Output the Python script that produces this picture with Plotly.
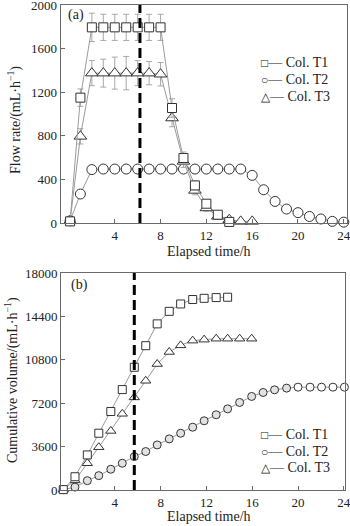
import plotly.graph_objects as go

W, H = 350, 526

# ---------------- data: panel (a) flow rate ----------------
t_a_T1 = [0.1, 1, 2, 3, 4, 5, 6, 7, 8, 9, 10, 11, 12, 13, 14]
flow_T1 = [15, 1150, 1795, 1795, 1795, 1795, 1795, 1795, 1795, 1055, 596, 345, 177, 76, 10]
err_T1 = [5, 80, 130, 120, 120, 120, 120, 120, 120, 85, 55, 40, 30, 20, 5]

t_a_T2 = [0.1, 1, 2, 3, 4, 5, 6, 7, 8, 9, 10, 11, 12, 13, 14, 15, 16, 17, 18, 19, 20, 21, 22, 23, 24]
flow_T2 = [20, 266, 490, 495, 495, 495, 495, 495, 495, 495, 495, 495, 495, 495, 495, 495,
           437, 305, 198, 128, 95, 60, 37, 15, 8]
err_T2 = [5, 30, 15, 10, 10, 10, 10, 10, 10, 10, 10, 10, 10, 10, 10, 10, 15, 15, 15, 15, 15, 10, 10, 5, 5]

t_a_T3 = [0.1, 1, 2, 3, 4, 5, 6, 7, 8, 9, 10, 11, 12, 13, 14, 15, 16]
flow_T3 = [20, 795, 1375, 1375, 1375, 1375, 1375, 1375, 1365, 963, 565, 299, 138, 61, 30, 15, 15]
err_T3 = [5, 70, 115, 128, 147, 153, 115, 107, 107, 80, 55, 40, 30, 20, 10, 5, 5]

# ---------------- data: panel (b) cumulative volume ----------------
t_b = [-0.5, 0.52, 1.6, 2.6, 3.65, 4.65, 5.7, 6.7, 7.7, 8.75, 9.75, 10.8, 11.8, 12.85,
       13.85, 14.9, 15.95, 16.95, 17.95, 19.0, 20.0, 21.05, 22.05, 23.05, 24.05]
cum_T1 = [30, 1100, 2910, 4710, 6510, 8330, 10180, 11970, 13780, 14820, 15430, 15800,
          15900, 15960, 15990]
cum_T2 = [30, 240, 775, 1190, 1720, 2220, 2770, 3190, 3740, 4240, 4710, 5210, 5740, 6240,
          6730, 7260, 7760, 8090, 8310, 8450, 8530, 8530, 8530, 8530, 8530]
cum_T3 = [30, 800, 2220, 3550, 4900, 6320, 7680, 9060, 10450, 11450, 12000, 12390, 12470,
          12550, 12550, 12550, 12550]

x_ticks = [4, 8, 12, 16, 20, 24]
y_ticks_a = [0, 400, 800, 1200, 1600, 2000]
y_ticks_b = [0, 3600, 7200, 10800, 14400, 18000]
legend_names = ["Col. T1", "Col. T2", "Col. T3"]
legend_syms = ["\u25a1", "\u25cb", "\u25b3"]
dash_a, dash_b = 6.2, 5.7

FONT = "Liberation Serif, Times New Roman, serif"
LINE = "#9a9a9a"
EDGE = "#333333"
FRAME = "#6a6a6a"

def px(xp):
    return xp / W

def py(yp):
    return 1 - yp / H

fig = go.Figure()

def add(x, y, sym, size, xa, ya, err=None, fills=None):
    marker = dict(symbol=sym, size=size, color=fills if fills else "white",
                  line=dict(color=EDGE, width=1))
    kw = {}
    if err is not None:
        kw["error_y"] = dict(type="data", array=err, color="#a8a8a8", thickness=1, width=3)
    fig.add_trace(go.Scatter(x=x, y=y, mode="lines+markers", xaxis=xa, yaxis=ya,
                             line=dict(color=LINE, width=1), marker=marker,
                             showlegend=False, cliponaxis=False, **kw))

# panel (a)
add(t_a_T2, flow_T2, "circle", 10, "x", "y", err_T2)
add(t_a_T3, flow_T3, "triangle-up", 11, "x", "y", err_T3)
add(t_a_T1, flow_T1, "square", 9, "x", "y", err_T1)

# panel (b)
fills_T2 = ["white"] + ["#e2e2e2"] * 19 + ["white"] * 5
add(t_b, cum_T2, "circle", 8, "x2", "y2", fills=fills_T2)
add(t_b[:len(cum_T3)], cum_T3, "triangle-up", 9, "x2", "y2")
add(t_b[:len(cum_T1)], cum_T1, "square", 8, "x2", "y2")

axis_common = dict(showline=True, linecolor=FRAME, linewidth=1, mirror=True,
                   ticks="inside", ticklen=4, tickcolor=FRAME, showgrid=False,
                   zeroline=False, tickfont=dict(family=FONT, size=13, color="#222"),
                   automargin=False, ticklabeloverflow="allow")

fig.update_layout(
    width=W, height=H, margin=dict(l=0, r=0, t=0, b=0),
    paper_bgcolor="white", plot_bgcolor="white",
    xaxis=dict(domain=[px(60.7), px(347)], range=[-0.72, 24.28], tickvals=x_ticks,
               ticktext=[str(v) for v in x_ticks], anchor="y", **axis_common),
    yaxis=dict(domain=[py(223), py(5)], range=[0, 2000], tickvals=y_ticks_a,
               ticktext=[str(v) for v in y_ticks_a], anchor="x", **axis_common),
    xaxis2=dict(domain=[px(61), px(345)], range=[-0.70, 24.1], tickvals=x_ticks,
                ticktext=[str(v) for v in x_ticks], anchor="y2", **axis_common),
    yaxis2=dict(domain=[py(490), py(273)], range=[0, 18000], tickvals=y_ticks_b,
                ticktext=[str(v) for v in y_ticks_b], anchor="x2", **axis_common),
    showlegend=False,
)

# dashed vertical lines
fig.add_shape(type="line", xref="x", yref="y domain", x0=dash_a, x1=dash_a, y0=0, y1=1,
              line=dict(color="black", width=3, dash="10px,5px"), layer="above")
fig.add_shape(type="line", xref="x2", yref="y2 domain", x0=dash_b, x1=dash_b, y0=0, y1=1,
              line=dict(color="black", width=3, dash="10px,5px"), layer="above")

def ann(text, x, y, size=14, angle=0, xanchor="center"):
    fig.add_annotation(text=text, x=px(x), y=py(y), xref="paper", yref="paper",
                       showarrow=False, textangle=angle, xanchor=xanchor, yanchor="middle",
                       font=dict(family=FONT, size=size, color="#222"))

ann("Elapsed time/h", 209, 251)
ann("Elapsed time/h", 209, 516)
ann("Flow rate/(mL·h<sup>−1</sup>)", 15, 120, angle=-90)
ann("Cumulative volume/(mL·h<sup>−1</sup>)", 11, 380, angle=-90)
ann("(a)", 66, 15, xanchor="left")
ann("(b)", 69, 285, xanchor="left")

for i, (s, n) in enumerate(zip(legend_syms, legend_names)):
    label = '<span style="font-size:12px">' + s + "</span>\u2014 " + n
    ann(label, 259, 63 + 16.5 * i, xanchor="left")
    ann(label, 259, 434 + 17 * i, xanchor="left")

fig.write_html("out.html")
